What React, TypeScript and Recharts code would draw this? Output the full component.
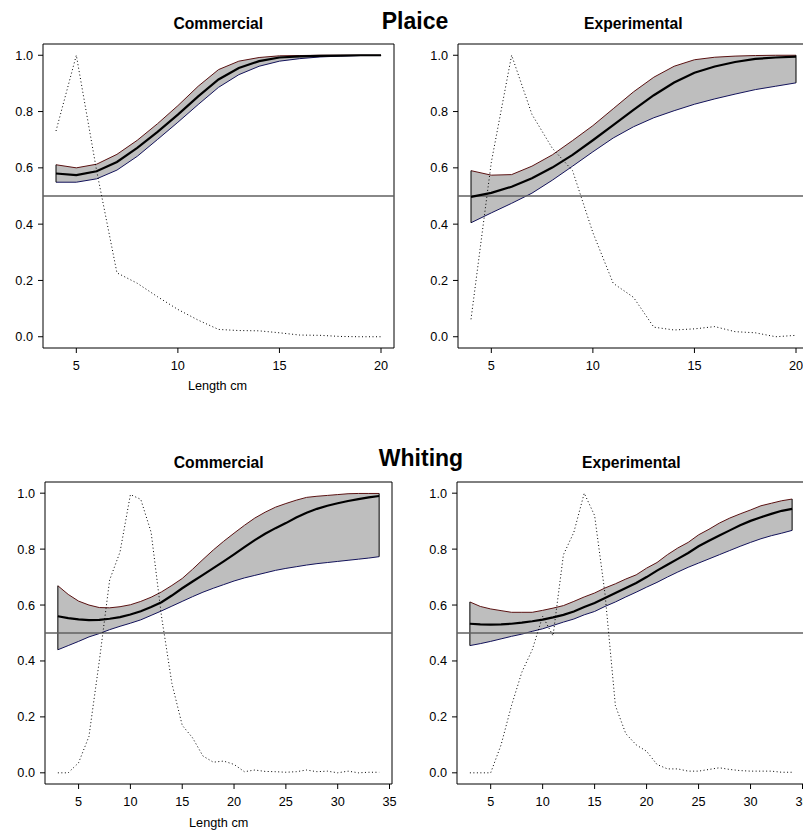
import React from "react";
import {
  ComposedChart,
  Area,
  Line,
  XAxis,
  YAxis,
  ReferenceLine,
  ReferenceArea,
} from "recharts";

// ---- Plaice (lengths 4..20 cm) ----
const plaiceLength = [4, 5, 6, 7, 8, 9, 10, 11, 12, 13, 14, 15, 16, 17, 18, 19, 20];

const plaiceComFit = [0.58, 0.574, 0.588, 0.621, 0.671, 0.728, 0.789, 0.854, 0.914, 0.955, 0.979, 0.992, 0.996, 0.998, 0.999, 1.0, 1.0];
const plaiceComHi = [0.611, 0.6, 0.613, 0.648, 0.698, 0.757, 0.821, 0.89, 0.949, 0.979, 0.992, 0.998, 0.999, 1.0, 1.0, 1.0, 1.0];
const plaiceComLo = [0.549, 0.549, 0.561, 0.592, 0.641, 0.701, 0.762, 0.825, 0.886, 0.931, 0.961, 0.979, 0.988, 0.994, 0.997, 0.999, 0.999];
const plaiceComDist = [0.731, 1.0, 0.59, 0.227, 0.19, 0.142, 0.097, 0.059, 0.026, 0.022, 0.021, 0.014, 0.006, 0.005, 0.001, 0.0, 0.0];

const plaiceExpFit = [0.497, 0.511, 0.533, 0.563, 0.601, 0.646, 0.698, 0.752, 0.806, 0.858, 0.903, 0.938, 0.96, 0.976, 0.987, 0.992, 0.995];
const plaiceExpHi = [0.59, 0.574, 0.576, 0.606, 0.646, 0.697, 0.75, 0.81, 0.87, 0.922, 0.961, 0.984, 0.993, 0.997, 0.999, 1.0, 1.0];
const plaiceExpLo = [0.405, 0.44, 0.474, 0.51, 0.556, 0.606, 0.657, 0.706, 0.746, 0.778, 0.803, 0.826, 0.845, 0.862, 0.878, 0.89, 0.902];
const plaiceExpDist = [0.062, 0.62, 1.0, 0.79, 0.67, 0.59, 0.37, 0.19, 0.14, 0.034, 0.024, 0.028, 0.036, 0.018, 0.014, 0.0, 0.005];

// ---- Whiting (lengths 3..34 cm) ----
const whitingLength = [3, 4, 5, 6, 7, 8, 9, 10, 11, 12, 13, 14, 15, 16, 17, 18, 19, 20, 21, 22, 23, 24, 25, 26, 27, 28, 29, 30, 31, 32, 33, 34];

const whitingComFit = [0.56, 0.553, 0.549, 0.546, 0.547, 0.551, 0.557, 0.566, 0.578, 0.593, 0.61, 0.634, 0.66, 0.684, 0.708, 0.732, 0.756, 0.781, 0.807, 0.832, 0.855, 0.875, 0.893, 0.913, 0.93, 0.944, 0.955, 0.964, 0.972, 0.979, 0.985, 0.99];
const whitingComHi = [0.669, 0.638, 0.614, 0.6, 0.591, 0.59, 0.594, 0.601, 0.613, 0.628, 0.647, 0.67, 0.695, 0.728, 0.763, 0.797, 0.828, 0.857, 0.885, 0.911, 0.932, 0.95, 0.963, 0.975, 0.985, 0.989, 0.992, 0.995, 0.998, 0.999, 0.999, 0.999];
const whitingComLo = [0.44, 0.455, 0.47, 0.486, 0.498, 0.512, 0.524, 0.535, 0.547, 0.563, 0.579, 0.596, 0.613, 0.63, 0.646, 0.66, 0.673, 0.686, 0.697, 0.706, 0.715, 0.724, 0.731, 0.737, 0.743, 0.748, 0.752, 0.756, 0.76, 0.764, 0.768, 0.773];
const whitingComDist = [0.0, 0.0, 0.036, 0.13, 0.4, 0.69, 0.79, 0.995, 0.978, 0.86, 0.56, 0.32, 0.17, 0.125, 0.06, 0.038, 0.042, 0.03, 0.004, 0.01, 0.005, 0.004, 0.002, 0.004, 0.01, 0.004, 0.006, 0.0, 0.006, 0.0, 0.002, 0.002];

const whitingExpFit = [0.533, 0.531, 0.53, 0.531, 0.533, 0.537, 0.542, 0.548, 0.556, 0.565, 0.577, 0.593, 0.607, 0.625, 0.643, 0.661, 0.679, 0.7, 0.723, 0.744, 0.765, 0.786, 0.81, 0.83, 0.849, 0.867, 0.885, 0.901, 0.914, 0.926, 0.937, 0.944];
const whitingExpHi = [0.611, 0.595, 0.586, 0.58, 0.574, 0.574, 0.574, 0.581, 0.589, 0.598, 0.613, 0.629, 0.643, 0.661, 0.676, 0.693, 0.708, 0.732, 0.752, 0.78, 0.804, 0.824, 0.851, 0.871, 0.893, 0.911, 0.926, 0.94, 0.955, 0.964, 0.973, 0.979];
const whitingExpLo = [0.455, 0.462, 0.47, 0.479, 0.488, 0.496, 0.506, 0.515, 0.527, 0.539, 0.55, 0.565, 0.577, 0.595, 0.611, 0.629, 0.646, 0.664, 0.681, 0.7, 0.718, 0.735, 0.75, 0.765, 0.78, 0.795, 0.81, 0.824, 0.837, 0.848, 0.857, 0.867];
const whitingExpDist = [0.0, 0.0, 0.0, 0.1, 0.24, 0.36, 0.44, 0.56, 0.49, 0.78, 0.86, 1.0, 0.92, 0.64, 0.24, 0.14, 0.1, 0.077, 0.03, 0.014, 0.014, 0.006, 0.006, 0.012, 0.018, 0.012, 0.008, 0.006, 0.006, 0.006, 0.002, 0.002];

const plaiceTicks = [5, 10, 15, 20];
const whitingTicks = [5, 10, 15, 20, 25, 30, 35];
const probTicks = [0, 0.2, 0.4, 0.6, 0.8, 1.0];

const FONT = "'Liberation Sans', Arial, Helvetica, sans-serif";
const TICK_SIZE = 12.7;

interface PanelProps {
  left: number;
  top: number;
  width: number;
  height: number;
  lengths: number[];
  fit: number[];
  lo: number[];
  hi: number[];
  dist: number[];
  ticks: number[];
}

function Panel({ left, top, width, height, lengths, fit, lo, hi, dist, ticks }: PanelProps) {
  const rows = lengths.map((len, i) => ({
    len,
    fit: fit[i],
    lo: lo[i],
    hi: hi[i],
    dist: dist[i],
    band: [lo[i], hi[i]],
  }));
  const first = lengths[0];
  const last = lengths[lengths.length - 1];
  const pad = (last - first) * 0.04;
  const xDomain: [number, number] = [first - pad, last + pad];
  const n = lengths.length - 1;
  const tick = { fill: "#000", fontSize: TICK_SIZE, fontFamily: FONT };

  return (
    <div style={{ position: "absolute", left: left - 40, top: top - 10 }}>
      <ComposedChart
        width={40 + width + 10}
        height={10 + height + 50}
        data={rows}
        margin={{ top: 10, right: 10, bottom: 0, left: 0 }}
      >
        <XAxis
          type="number"
          dataKey="len"
          domain={xDomain}
          ticks={ticks}
          interval={0}
          allowDataOverflow
          axisLine={false}
          stroke="#000"
          tickSize={5}
          tickMargin={8.2}
          tick={tick}
          height={50}
        />
        <YAxis
          type="number"
          domain={[-0.04, 1.04]}
          ticks={probTicks}
          interval={0}
          allowDataOverflow
          axisLine={false}
          stroke="#000"
          tickSize={5}
          tickMargin={5}
          width={40}
          tick={tick}
          tickFormatter={(v: number) => v.toFixed(1)}
        />
        <Area
          dataKey="band"
          type="linear"
          fill="#bebebe"
          fillOpacity={1}
          stroke="none"
          dot={false}
          activeDot={false}
          isAnimationActive={false}
        />
        <Line dataKey="hi" type="linear" stroke="#5a1212" strokeWidth={1} dot={false} activeDot={false} isAnimationActive={false} />
        <Line dataKey="lo" type="linear" stroke="#12125a" strokeWidth={1} dot={false} activeDot={false} isAnimationActive={false} />
        <ReferenceLine
          segment={[{ x: first, y: lo[0] }, { x: first, y: hi[0] }]}
          stroke="#000"
          strokeWidth={1}
        />
        <ReferenceLine
          segment={[{ x: last, y: lo[n] }, { x: last, y: hi[n] }]}
          stroke="#000"
          strokeWidth={1}
        />
        <ReferenceLine y={0.5} stroke="#606060" strokeWidth={1.5} />
        <Line dataKey="fit" type="linear" stroke="#000" strokeWidth={2.2} dot={false} activeDot={false} isAnimationActive={false} />
        <Line
          dataKey="dist"
          type="linear"
          stroke="#000"
          strokeWidth={1}
          strokeDasharray="1 2.5"
          dot={false}
          activeDot={false}
          isAnimationActive={false}
        />
        <ReferenceArea
          x1={xDomain[0]}
          x2={xDomain[1]}
          y1={-0.04}
          y2={1.04}
          fill="none"
          stroke="#000"
          strokeWidth={1}
          ifOverflow="visible"
        />
      </ComposedChart>
    </div>
  );
}

function Label({ x, y, size, bold, children }: { x: number; y: number; size: number; bold?: boolean; children: React.ReactNode }) {
  return (
    <div
      style={{
        position: "absolute",
        left: x,
        top: y,
        transform: "translate(-50%, -50%)",
        fontFamily: FONT,
        fontSize: size,
        lineHeight: `${size}px`,
        fontWeight: bold ? "bold" : "normal",
        whiteSpace: "nowrap",
        color: "#000",
      }}
    >
      {children}
    </div>
  );
}

export default function App() {
  return (
    <div
      style={{
        position: "relative",
        width: 803,
        height: 830,
        overflow: "hidden",
        background: "#fff",
      }}
    >
      <style>{"body{margin:0;overflow:hidden}"}</style>

      <Label x={415} y={21.4} size={23} bold>Plaice</Label>
      <Label x={218.3} y={24.3} size={15.7} bold>Commercial</Label>
      <Label x={633.3} y={24.3} size={15.7} bold>Experimental</Label>
      <Label x={217.5} y={386.3} size={TICK_SIZE}>Length cm</Label>

      <Panel left={43} top={44} width={351} height={304} lengths={plaiceLength}
        fit={plaiceComFit} lo={plaiceComLo} hi={plaiceComHi} dist={plaiceComDist} ticks={plaiceTicks} />
      <Panel left={458} top={44} width={351} height={304} lengths={plaiceLength}
        fit={plaiceExpFit} lo={plaiceExpLo} hi={plaiceExpHi} dist={plaiceExpDist} ticks={plaiceTicks} />

      <Label x={421} y={457.8} size={23} bold>Whiting</Label>
      <Label x={218.7} y={462.8} size={15.7} bold>Commercial</Label>
      <Label x={631.3} y={462.8} size={15.7} bold>Experimental</Label>
      <Label x={218.7} y={822.5} size={TICK_SIZE}>Length cm</Label>

      <Panel left={45} top={482} width={347} height={302} lengths={whitingLength}
        fit={whitingComFit} lo={whitingComLo} hi={whitingComHi} dist={whitingComDist} ticks={whitingTicks} />
      <Panel left={457} top={482} width={348} height={302} lengths={whitingLength}
        fit={whitingExpFit} lo={whitingExpLo} hi={whitingExpHi} dist={whitingExpDist} ticks={whitingTicks} />
    </div>
  );
}
